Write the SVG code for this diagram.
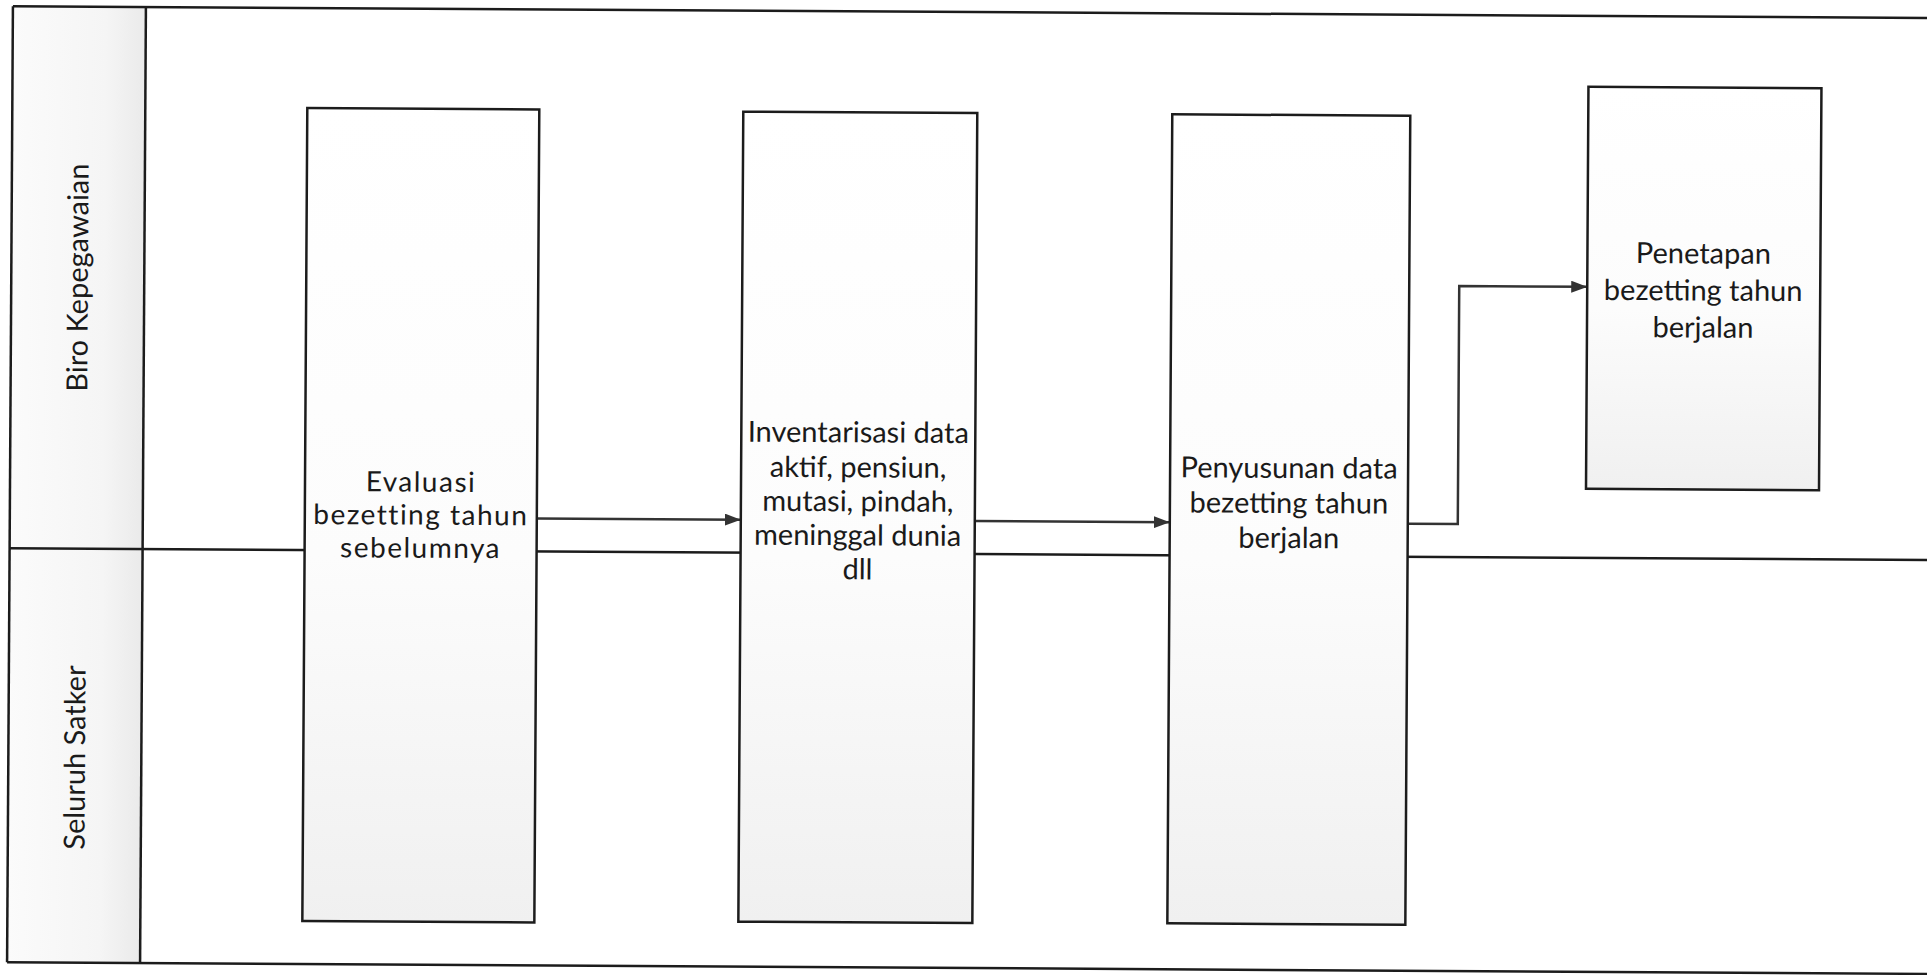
<svg xmlns="http://www.w3.org/2000/svg" width="1927" height="975" viewBox="0 0 1927 975">
<defs>
<linearGradient id="boxfill" x1="0" y1="0" x2="0" y2="1">
<stop offset="0" stop-color="#ffffff"/><stop offset="0.55" stop-color="#fcfcfc"/><stop offset="1" stop-color="#f0f0f0"/>
</linearGradient>
<linearGradient id="hdrfill" x1="0" y1="0" x2="1" y2="0">
<stop offset="0" stop-color="#fbfbfb"/><stop offset="0.7" stop-color="#f5f5f5"/><stop offset="1" stop-color="#eaeaea"/>
</linearGradient>
<marker id="arr" markerWidth="16" markerHeight="12" refX="16" refY="6" orient="auto" markerUnits="userSpaceOnUse">
<path d="M0,0 L16,6 L0,12 Z" fill="#333"/>
</marker>
</defs>
<style>
.frame{stroke:#1c1c1c;stroke-width:2.5;fill:none}
.box rect{fill:url(#boxfill);stroke:#1c1c1c;stroke-width:2.5}
.lbl{font-family:Lato,'Liberation Sans',sans-serif;font-size:29px;fill:#1a1a1a;text-anchor:middle}
.wide{font-size:28px;letter-spacing:1.5px}
.conn{stroke:#333;stroke-width:2.5;fill:none}
</style>
<rect width="1927" height="975" fill="#ffffff"/>
<g transform="rotate(0.35 963 487)">
<g id="lanes">
<rect x="10" y="12" width="133" height="956" fill="url(#hdrfill)"/>
<line class="frame" x1="10" y1="12" x2="1950" y2="12"/>
<line class="frame" x1="10" y1="968" x2="1950" y2="968"/>
<line class="frame" x1="10" y1="12" x2="10" y2="968"/>
<line class="frame" x1="143" y1="12" x2="143" y2="968"/>
<line class="frame" x1="10" y1="554" x2="1950" y2="554"/>
<text class="lbl" x="76.5" y="283" dy="0.35em" transform="rotate(-90 76.5 283)">Biro Kepegawaian</text>
<text class="lbl" x="76.5" y="763" dy="0.35em" transform="rotate(-90 76.5 763)">Seluruh Satker</text>
</g>
<g id="connectors">
<line class="conn" x1="537" y1="521" x2="741" y2="521" marker-end="url(#arr)"/>
<line class="conn" x1="975" y1="521" x2="1170" y2="521" marker-end="url(#arr)"/>
<polyline class="conn" points="1408,521 1458,521 1458,283 1586,283" marker-end="url(#arr)"/>
</g>
<g id="n1" class="box">
<rect x="305" y="112" width="232" height="813"/>
<text class="lbl wide" x="421" y="495">Evaluasi</text>
<text class="lbl wide" x="421" y="528">bezetting tahun</text>
<text class="lbl wide" x="421" y="561">sebelumnya</text>
</g>
<g id="n2" class="box">
<rect x="741" y="113" width="234" height="810"/>
<text class="lbl" x="858" y="443">Inventarisasi data</text>
<text class="lbl" x="858" y="478">aktif, pensiun,</text>
<text class="lbl" x="858" y="512">mutasi, pindah,</text>
<text class="lbl" x="858" y="546">meninggal dunia</text>
<text class="lbl" x="858" y="580">dll</text>
</g>
<g id="n3" class="box">
<rect x="1170" y="113" width="238" height="809"/>
<text class="lbl" x="1289" y="476">Penyusunan data</text>
<text class="lbl" x="1289" y="511">bezetting tahun</text>
<text class="lbl" x="1289" y="546">berjalan</text>
</g>
<g id="n4" class="box">
<rect x="1586" y="83" width="233" height="402"/>
<text class="lbl" x="1702" y="259">Penetapan</text>
<text class="lbl" x="1702" y="296">bezetting tahun</text>
<text class="lbl" x="1702" y="333">berjalan</text>
</g>
</g>
</svg>
